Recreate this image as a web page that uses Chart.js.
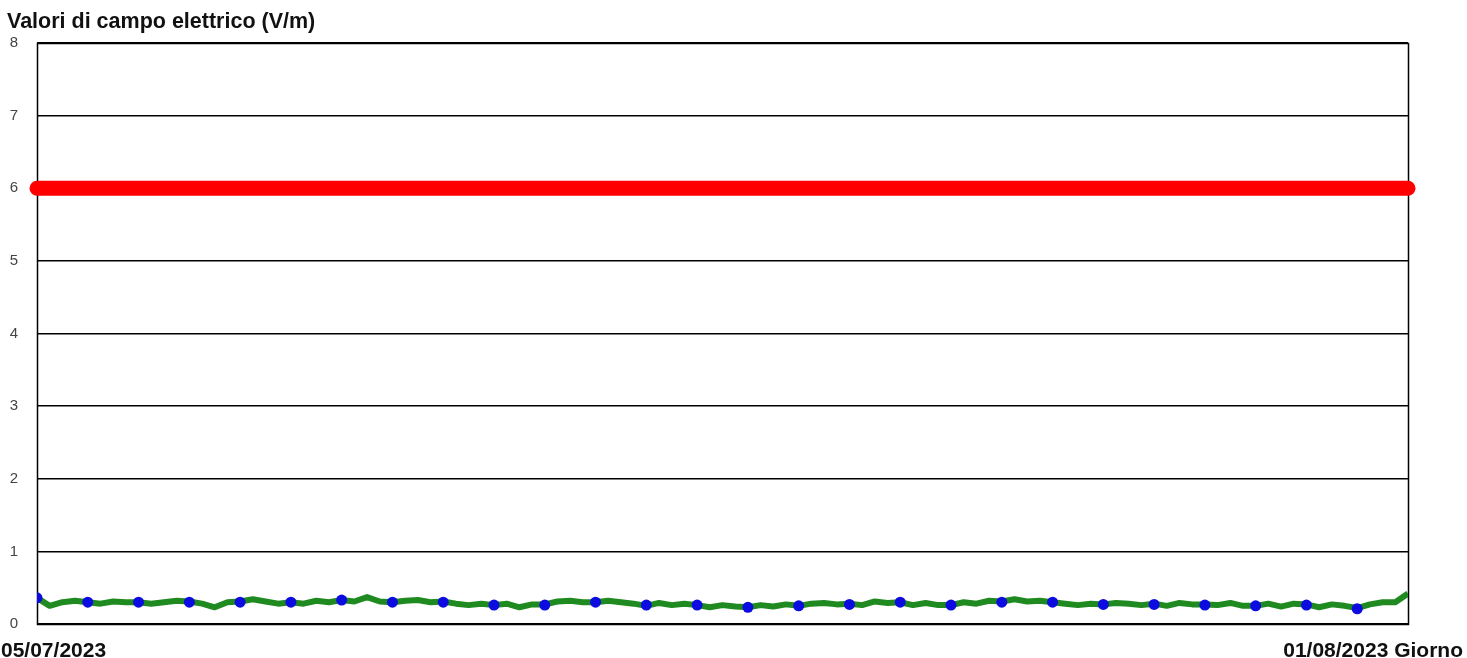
<!DOCTYPE html>
<html>
<head>
<meta charset="utf-8">
<script src="https://cdn.jsdelivr.net/npm/chart.js@4/dist/chart.umd.min.js"></script>
<style>
  body { margin: 0; background: #fff; font-family: "Liberation Sans", Arial, sans-serif; }
  #wrap { position: relative; width: 1467px; height: 658px; }
  canvas { position: absolute; left: 0; top: 0; }
  .lbl { position: absolute; font-weight: bold; font-size: 21px; color: #111; white-space: nowrap; line-height: 1; }
</style>
</head>
<body>
<div id="wrap">
  <canvas id="chart" width="1467" height="658"></canvas>
  <div class="lbl" style="left:7px; top:11px; font-size:21.5px;">Valori di campo elettrico (V/m)</div>
  <div class="lbl" style="left:1px; top:639px;">05/07/2023</div>
  <div class="lbl" style="right:4px; top:639px;">01/08/2023 Giorno</div>
</div>
<script>
console.log("Connected.")

// y axis ticks
var yTicks = [0, 1, 2, 3, 4, 5, 6, 7, 8]
// number of days shown (05/07 -> 01/08)
var numDays = 27
// limit value (V/m)
var limitValue = 6
// daily averages (blue points), one per day starting 05/07
var dailyValues = [0.36, 0.30, 0.30, 0.30, 0.30, 0.30, 0.33, 0.30, 0.30, 0.26,
                   0.26, 0.30, 0.26, 0.26, 0.23, 0.25, 0.27, 0.30, 0.26, 0.30,
                   0.30, 0.27, 0.27, 0.26, 0.25, 0.26, 0.21]
// measurements every 6 hours (green line)
var sixHourValues = [
    0.36, 0.25, 0.30, 0.32,  0.30, 0.28, 0.31, 0.30,  0.30, 0.28, 0.30, 0.32,
    0.31, 0.28, 0.23, 0.30,  0.31, 0.34, 0.31, 0.28,  0.30, 0.28, 0.32, 0.30,
    0.33, 0.31, 0.37, 0.31,  0.30, 0.32, 0.33, 0.30,  0.31, 0.28, 0.26, 0.28,
    0.26, 0.28, 0.23, 0.27,  0.27, 0.31, 0.32, 0.30,  0.30, 0.32, 0.30, 0.28,
    0.25, 0.29, 0.26, 0.28,  0.26, 0.23, 0.26, 0.24,  0.23, 0.26, 0.24, 0.27,
    0.25, 0.28, 0.29, 0.27,  0.28, 0.26, 0.31, 0.29,  0.30, 0.26, 0.29, 0.26,
    0.26, 0.30, 0.28, 0.32,  0.31, 0.34, 0.31, 0.32,  0.30, 0.28, 0.26, 0.28,
    0.27, 0.29, 0.28, 0.26,  0.28, 0.25, 0.29, 0.27,  0.27, 0.26, 0.29, 0.25,
    0.25, 0.28, 0.24, 0.28,  0.27, 0.23, 0.27, 0.25,  0.22, 0.27, 0.30, 0.30,
    0.42
]

var plotBorder = {
    id: 'plotBorder',
    beforeDatasetsDraw(chart) {
        var a = chart.chartArea
        var ctx = chart.ctx
        ctx.save()
        ctx.strokeStyle = '#000'
        ctx.lineWidth = 1.5
        ctx.strokeRect(Math.round(a.left) + 0.5, Math.round(a.top) + 0.5,
                       Math.round(a.right - a.left), Math.round(a.bottom - a.top))
        ctx.restore()
    }
}

function loadChart() {
    var ctx = document.getElementById('chart').getContext('2d')
    var greenData = sixHourValues.map((v, i) => ({ x: i / 4, y: v }))
    var blueData = dailyValues.map((v, i) => ({ x: i, y: v }))
    var limitData = [{ x: 0, y: limitValue }, { x: numDays, y: limitValue }]

    new Chart(ctx, {
        type: 'line',
        data: {
            datasets: [
                {
                    data: blueData,
                    showLine: false,
                    pointRadius: 5.5,
                    pointBackgroundColor: '#0c0ce0',
                    pointBorderWidth: 0
                },
                {
                    data: greenData,
                    borderColor: '#1f8a1f',
                    borderWidth: 6,
                    pointRadius: 0,
                    tension: 0,
                    borderJoinStyle: 'round'
                },
                {
                    data: limitData,
                    borderColor: '#ff0000',
                    borderWidth: 15,
                    borderCapStyle: 'round',
                    pointRadius: 0,
                    clip: false
                }
            ]
        },
        options: {
            responsive: false,
            animation: false,
            events: [],
            layout: { padding: { left: 0, top: 43, right: 59, bottom: 34 } },
            plugins: {
                legend: { display: false },
                tooltip: { enabled: false }
            },
            scales: {
                x: {
                    type: 'linear',
                    display: false,
                    min: 0,
                    max: numDays
                },
                y: {
                    min: yTicks[0],
                    max: yTicks[yTicks.length - 1],
                    afterFit: (scale) => { scale.width = 37 },
                    afterBuildTicks: (scale) => { scale.ticks = yTicks.map(v => ({ value: v })) },
                    border: { display: false },
                    grid: { color: '#000', lineWidth: 1.5, drawTicks: false },
                    ticks: {
                        padding: 19,
                        color: '#444',
                        font: { family: 'Liberation Sans', size: 15 }
                    }
                }
            }
        },
        plugins: [plotBorder]
    })
}

document.addEventListener("DOMContentLoaded", () => {
    loadChart()
})
</script>
</body>
</html>
